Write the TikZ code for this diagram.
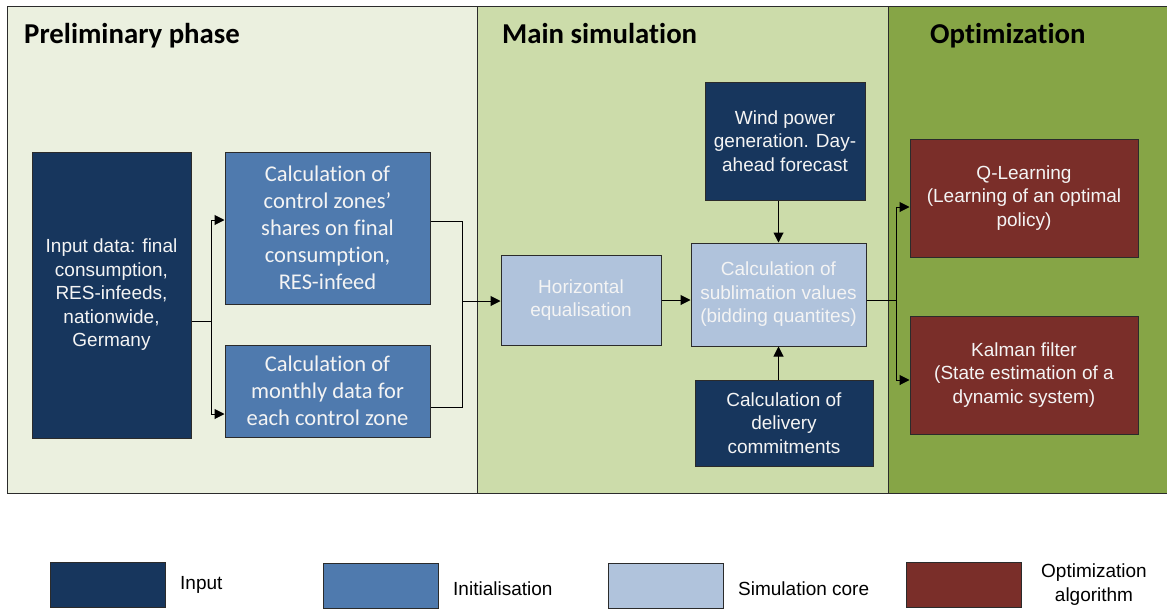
\documentclass[tikz,border=0pt]{standalone}
\usepackage{fontspec}
\setmainfont{Liberation Sans}
\newfontfamily\carlito[Ligatures=NoCommon]{Carlito}
\usetikzlibrary{arrows.meta}

\definecolor{prelimbg}{HTML}{EBF0DF}
\definecolor{mainbg}{HTML}{CCDCAA}
\definecolor{optbg}{HTML}{86A546}
\definecolor{inputc}{HTML}{17365D}
\definecolor{initc}{HTML}{4F7AAE}
\definecolor{corec}{HTML}{B0C3DC}
\definecolor{algoc}{HTML}{7A2E29}
\definecolor{edgec}{HTML}{2B2B2B}
\definecolor{boxtext}{HTML}{F4F4F4}

\tikzset{
  panel/.style={draw=edgec, line width=1pt},
  title/.style={anchor=base west, inner sep=0pt, font=\carlito\bfseries\fontsize{28.8}{32}\selectfont},
  box/.style={draw=edgec, line width=1pt, text=boxtext, align=center, inner sep=0pt,
    font=\fontsize{19}{23.5}\selectfont},
  inputbox/.style={box, fill=inputc},
  initbox/.style={box, fill=initc, font=\carlito\fontsize{22.5}{27}\selectfont},
  corebox/.style={box, fill=corec},
  algobox/.style={box, fill=algoc},
  link/.style={draw=black, line width=1pt},
  arr/.style={link, -{Triangle[length=10pt,width=10pt]}},
  keybox/.style={draw=edgec, line width=0.8pt, minimum width=115pt, minimum height=45pt, inner sep=0pt},
  keytext/.style={align=center, inner sep=0pt, font=\fontsize{19}{24}\selectfont},
}

\begin{document}
\begin{tikzpicture}[x=1pt,y=-1pt]
\useasboundingbox (0,0) rectangle (1167,608);

% phase panels
\fill[prelimbg] (7,6) rectangle (477,493);
\fill[mainbg] (477,6) rectangle (888,493);
\fill[optbg] (888,6) rectangle (1170,493);
\draw[panel] (7,6) rectangle (477,493);
\draw[panel] (477,6) rectangle (888,493);
\draw[panel] (888,6) rectangle (1170,493);

\node[title] (tprelim) at (24,43) {Preliminary phase};
\node[title] (tmain) at (502,43) {Main simulation};
\node[title] (topt) at (930,43) {Optimization};

% preliminary phase
\node[inputbox, minimum width=159pt, minimum height=286pt] (input) at (111.5,295)
  {Input data: final\\consumption,\\RES-infeeds,\\nationwide,\\Germany};
\node[initbox, minimum width=205pt, minimum height=152pt] (ctrl) at (327.5,228)
  {Calculation of\\control zones’\\shares on final\\consumption,\\RES-infeed};
\node[initbox, minimum width=205pt, minimum height=92pt] (month) at (327.5,391)
  {Calculation of\\monthly data for\\each control zone};

% main simulation
\node[corebox, minimum width=160pt, minimum height=90pt] (horiz) at (581,300)
  {Horizontal\\equalisation};
\node[corebox, minimum width=175pt, minimum height=103pt] (subl) at (778.5,294.5)
  {Calculation of\\sublimation values\\(bidding quantites)};
\node[inputbox, minimum width=160pt, minimum height=118pt] (wind) at (785,141)
  {Wind power\\generation. Day-\\ahead forecast};
\node[inputbox, minimum width=178pt, minimum height=86pt] (deliv) at (784,423)
  {Calculation of\\delivery\\commitments};

% optimization
\node[algobox, minimum width=228pt, minimum height=118pt] (qlearn) at (1024,198)
  {Q-Learning\\(Learning of an optimal\\policy)};
\node[algobox, minimum width=228pt, minimum height=118pt] (kalman) at (1024,375)
  {Kalman filter\\(State estimation of a\\dynamic system)};

% connectors
\coordinate (j1) at (211,321);
\coordinate (j2) at (462,301);
\coordinate (j3) at (896,300);
\draw[link] (input.east |- j1) -- (j1);
\draw[arr] (j1) |- ([yshift=8pt]ctrl.west);
\draw[arr] (j1) |- ([yshift=-23pt]month.west);
\draw[link] ([yshift=7pt]ctrl.east) -| (j2);
\draw[link] ([yshift=-16pt]month.east) -| (j2);
\draw[arr] (j2) -- (j2 -| horiz.west);
\draw[arr] (horiz.east) -- (horiz.east -| subl.west);
\draw[arr] (wind.south -| subl.north) -- (subl.north);
\draw[arr] (deliv.north -| subl.south) -- (subl.south);
\draw[link] (subl.east |- j3) -- (j3);
\draw[arr] (j3) |- ([yshift=-9pt]qlearn.west);
\draw[arr] (j3) |- ([yshift=-5pt]kalman.west);

% legend
\node[keybox, fill=inputc] (kinput) at (107.5,585) {};
\node[keytext, anchor=west] (linput) at (180,585) {Input};
\node[keybox, fill=initc] (kinit) at (380.5,585.5) {};
\node[keytext, anchor=west] (linit) at (453,589) {Initialisation};
\node[keybox, fill=corec] (kcore) at (665.5,585.5) {};
\node[keytext, anchor=west] (lcore) at (738,589) {Simulation core};
\node[keybox, fill=algoc] (kalgo) at (964,585) {};
\node[keytext] (lalgo) at (1094,585) {Optimization\\algorithm};
\end{tikzpicture}
\end{document}
